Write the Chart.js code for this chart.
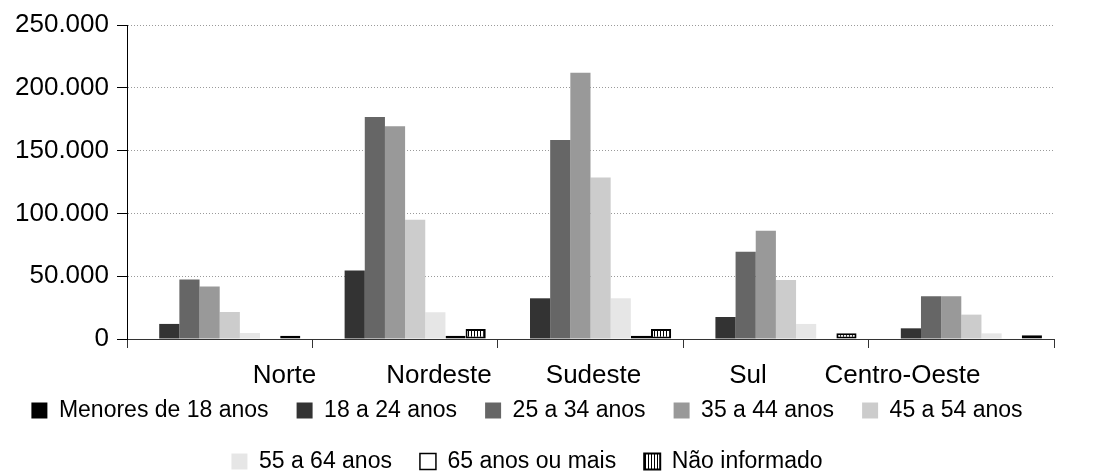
<!DOCTYPE html>
<html lang="pt-BR">
<head>
<meta charset="utf-8">
<title>Distribuição por região e faixa etária</title>
<script src="https://cdn.jsdelivr.net/npm/chart.js@4.4.1/dist/chart.umd.min.js"></script>
<style>
  html, body { margin: 0; padding: 0; background: #fff; }
</style>
</head>
<body>
<canvas id="chart" width="1102" height="473"></canvas>
<script>
/* global Chart */

/* ---- data ---- */
const REGIONS = ['Norte', 'Nordeste', 'Sudeste', 'Sul', 'Centro-Oeste'];
const AGE_GROUPS = [
  'Menores de 18 anos', '18 a 24 anos', '25 a 34 anos', '35 a 44 anos',
  '45 a 54 anos', '55 a 64 anos', '65 anos ou mais', 'Não informado',
];
const MENORES_18   = [0, 0, 0, 0, 0];
const ANOS_18_24   = [12000, 54500, 32400, 17500, 8500];
const ANOS_25_34   = [47300, 176800, 158400, 69400, 34000];
const ANOS_35_44   = [41700, 169300, 211900, 86100, 34000];
const ANOS_45_54   = [21500, 94900, 128600, 47000, 19400];
const ANOS_55_64   = [4800, 21300, 32400, 12000, 4500];
const ANOS_65_MAIS = [0, 2600, 2600, 0, 0];
const NAO_INFORM   = [2600, 8000, 8000, 4500, 3000];
const Y_TICKS = [0, 50000, 100000, 150000, 200000, 250000];

const SERIES = [MENORES_18, ANOS_18_24, ANOS_25_34, ANOS_35_44, ANOS_45_54, ANOS_55_64, ANOS_65_MAIS, NAO_INFORM];

/* ---- styling ---- */
const FONT = "'Liberation Sans', Arial, sans-serif";
const AXIS_FONT_SIZE = 26;
Chart.defaults.font.family = FONT;
Chart.defaults.color = '#000';

/** Vertical black/white stripes for the "Não informado" series. */
function stripePattern() {
  const tile = document.createElement('canvas');
  tile.width = 3;
  tile.height = 4;
  const c = tile.getContext('2d');
  c.fillStyle = '#fff';
  c.fillRect(0, 0, 3, 4);
  c.fillStyle = '#000';
  c.fillRect(0, 0, 1, 4);
  return c.createPattern(tile, 'repeat');
}

const FILLS = ['#000000', '#333333', '#666666', '#999999', '#cccccc', '#e6e6e6', '#ffffff', stripePattern()];
const BORDERS = [0, 0, 0, 0, 0, 0, 1.5, 2];

/** pt-BR thousands separator: 250000 -> "250.000" */
const fmt = v => String(v).replace(/\B(?=(\d{3})+(?!\d))/g, '.');

/*
 * Region names sit on their own (hidden) category axis, drawn here so the
 * text is not clipped to that axis' thin box.
 */
const regionLabels = {
  id: 'regionLabels',
  afterDraw(chart) {
    const s = chart.scales.xl;
    const ctx = chart.ctx;
    ctx.save();
    ctx.font = `${AXIS_FONT_SIZE}px ${FONT}`;
    ctx.fillStyle = '#000';
    ctx.textAlign = 'center';
    ctx.textBaseline = 'middle';
    s.ticks.forEach((t, i) => {
      const label = s.getLabelForValue(t.value);
      if (label) ctx.fillText(label, s.getPixelForTick(i) + 3, s.top + 28);
    });
    ctx.restore();
  },
};

const datasets = SERIES.map((values, i) => ({
  label: AGE_GROUPS[i],
  data: values,
  backgroundColor: FILLS[i],
  borderColor: '#000',
  borderWidth: BORDERS[i],
  borderSkipped: false,
  categoryPercentage: 0.87,
  barPercentage: 1.0,
}));

new Chart(document.getElementById('chart'), {
  type: 'bar',
  data: { labels: REGIONS, datasets },
  plugins: [regionLabels],
  options: {
    responsive: false,
    animation: false,
    devicePixelRatio: 1,
    layout: { padding: { top: 25, right: 48, bottom: -10, left: 0 } },
    plugins: {
      tooltip: { enabled: false },
      legend: {
        position: 'bottom',
        labels: {
          font: { size: 23 },
          color: '#000',
          boxWidth: 16,
          boxHeight: 16,
          padding: 28,
        },
      },
    },
    scales: {
      x: {
        weight: 0,
        ticks: { display: false },
        grid: {
          display: true,
          offset: true,
          drawOnChartArea: false,
          drawTicks: true,
          tickLength: 9,
          tickColor: '#333',
        },
        border: { color: '#333', width: 1 },
        afterFit: s => { s.height = 9; },
      },
      /* label row: region names spread as in the original export */
      xl: {
        type: 'category',
        position: 'bottom',
        weight: 1,
        labels: ['', ...REGIONS, ''],
        offset: false,
        grid: { display: false, drawTicks: false },
        border: { display: false },
        ticks: { display: false },
        afterFit: s => { s.height = 23; },
      },
      y: {
        min: 0,
        max: 250000,
        afterBuildTicks: s => { s.ticks = Y_TICKS.map(v => ({ value: v })); },
        ticks: {
          font: { size: AXIS_FONT_SIZE },
          color: '#000',
          padding: 8,
          callback: v => fmt(v),
        },
        grid: {
          color: '#9a9a9a',
          lineWidth: 1,
          tickColor: '#000',
          tickLength: 10,
        },
        border: { color: '#000', width: 1, dash: [1, 2] },
        afterFit: s => { s.width = 127; },
      },
    },
  },
});
</script>
</body>
</html>
